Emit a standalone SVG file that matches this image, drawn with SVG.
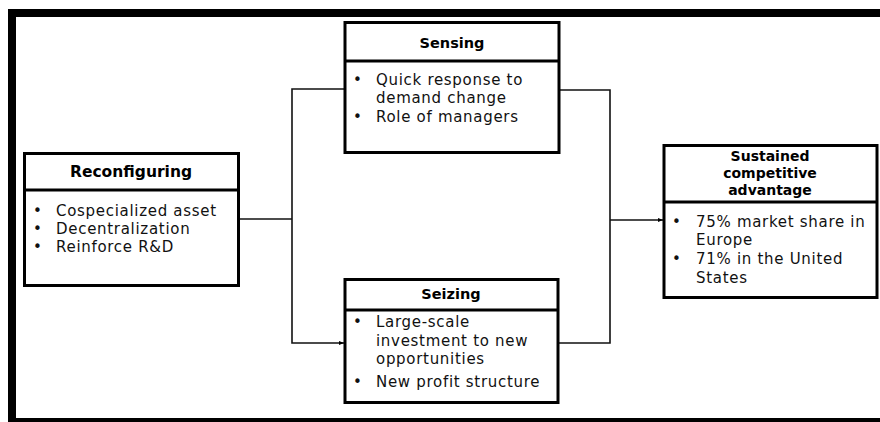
<svg xmlns="http://www.w3.org/2000/svg" width="880" height="422" viewBox="0 0 880 422">
<defs>
<style>
.box{fill:#fff;stroke:#000;stroke-width:3}
.title{font-family:"DejaVu Sans","Liberation Sans",sans-serif;font-weight:bold;font-size:14.5px;text-anchor:middle;fill:#000}
.sub{font-size:14px}
.body{font-family:"DejaVu Sans","Liberation Sans",sans-serif;font-size:15px;letter-spacing:0.7px;fill:#111}
.conn{fill:none;stroke:#111;stroke-width:1.6}
</style>
<marker id="arr" viewBox="0 0 10 10" refX="10" refY="5" markerWidth="5" markerHeight="5" orient="auto" markerUnits="userSpaceOnUse">
<path d="M0,1 L10,5 L0,9 z" fill="#000"/>
</marker>
</defs>
<rect x="0" y="0" width="880" height="422" fill="#fff"/>
<rect x="12" y="13" width="880" height="409" fill="none" stroke="#000" stroke-width="8"/>
<g id="connectors">
<polyline class="conn" points="239,219 292,219"/>
<polyline class="conn" points="344,89 292,89 292,343 344,343" marker-start="url(#arr)" marker-end="url(#arr)"/>
<polyline class="conn" points="559,90 610,90 610,343 558,343"/>
<line class="conn" x1="610" y1="220" x2="663" y2="220" marker-end="url(#arr)"/>
</g>
<g id="reconfiguring">
<rect class="box" x="24.5" y="153.5" width="214" height="132"/>
<line x1="24.5" y1="190" x2="238.5" y2="190" stroke="#000" stroke-width="3"/>
<text class="title" x="131" y="177" style="font-size:15.5px">Reconfiguring</text>
<text class="body"><tspan x="33" y="216">•</tspan><tspan x="56" y="216">Cospecialized asset</tspan></text>
<text class="body"><tspan x="33" y="234">•</tspan><tspan x="56" y="234">Decentralization</tspan></text>
<text class="body"><tspan x="33" y="252">•</tspan><tspan x="56" y="252">Reinforce R&amp;D</tspan></text>
</g>
<g id="sensing">
<rect class="box" x="345" y="22.5" width="214" height="130"/>
<line x1="345" y1="61" x2="559" y2="61" stroke="#000" stroke-width="3"/>
<text class="title" x="452" y="48">Sensing</text>
<text class="body"><tspan x="353" y="85">•</tspan><tspan x="376" y="85">Quick response to</tspan></text>
<text class="body" x="376" y="103">demand change</text>
<text class="body"><tspan x="353" y="122">•</tspan><tspan x="376" y="122">Role of managers</tspan></text>
</g>
<g id="seizing">
<rect class="box" x="345" y="279.5" width="213" height="123"/>
<line x1="345" y1="310" x2="558" y2="310" stroke="#000" stroke-width="3"/>
<text class="title" x="451" y="299">Seizing</text>
<text class="body"><tspan x="353" y="327">•</tspan><tspan x="376" y="327">Large-scale</tspan></text>
<text class="body" x="376" y="346">investment to new</text>
<text class="body" x="376" y="364">opportunities</text>
<text class="body"><tspan x="353" y="387">•</tspan><tspan x="376" y="387">New profit structure</tspan></text>
</g>
<g id="sustained">
<rect class="box" x="664" y="145.5" width="213" height="152"/>
<line x1="664" y1="202" x2="877" y2="202" stroke="#000" stroke-width="3"/>
<text class="title sub" x="770" y="161">Sustained</text>
<text class="title sub" x="770" y="178">competitive</text>
<text class="title sub" x="770" y="195">advantage</text>
<text class="body"><tspan x="672" y="227">•</tspan><tspan x="696" y="227">75% market share in</tspan></text>
<text class="body" x="696" y="245">Europe</text>
<text class="body"><tspan x="672" y="264">•</tspan><tspan x="696" y="264">71% in the United</tspan></text>
<text class="body" x="696" y="283">States</text>
</g>
</svg>
